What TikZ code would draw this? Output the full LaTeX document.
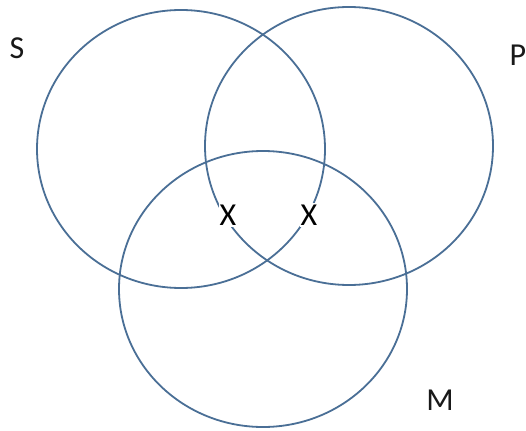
\documentclass[tikz,border=0pt]{standalone}
\usepackage{fontspec}
\setmainfont{Carlito}
\definecolor{ring}{HTML}{4A6F96}
\begin{document}
\begin{tikzpicture}[x=1pt,y=-1pt,
  ring/.style={draw=ring,line width=1.8pt},
  lab/.style={font=\fontsize{32}{36}\selectfont,text=black!90,inner sep=0pt},
  xmark/.style={font=\fontsize{32}{36}\selectfont,text=black,fill=white,inner xsep=0.5pt,inner ysep=2pt}]
\useasboundingbox[fill=white] (0,0) rectangle (526,430);
\draw[ring] (181,149) ellipse [x radius=144,y radius=139];
\draw[ring] (349,146) ellipse [x radius=144,y radius=139];
\draw[ring] (263,289) ellipse [x radius=144,y radius=138];
\node[xmark] (x1) at (228,215) {X};
\node[xmark] (x2) at (309,215) {X};
\node[lab] (s) at (17,48) {S};
\node[lab] (p) at (518,55) {P};
\node[lab] (m) at (440,400) {M};
\end{tikzpicture}
\end{document}
